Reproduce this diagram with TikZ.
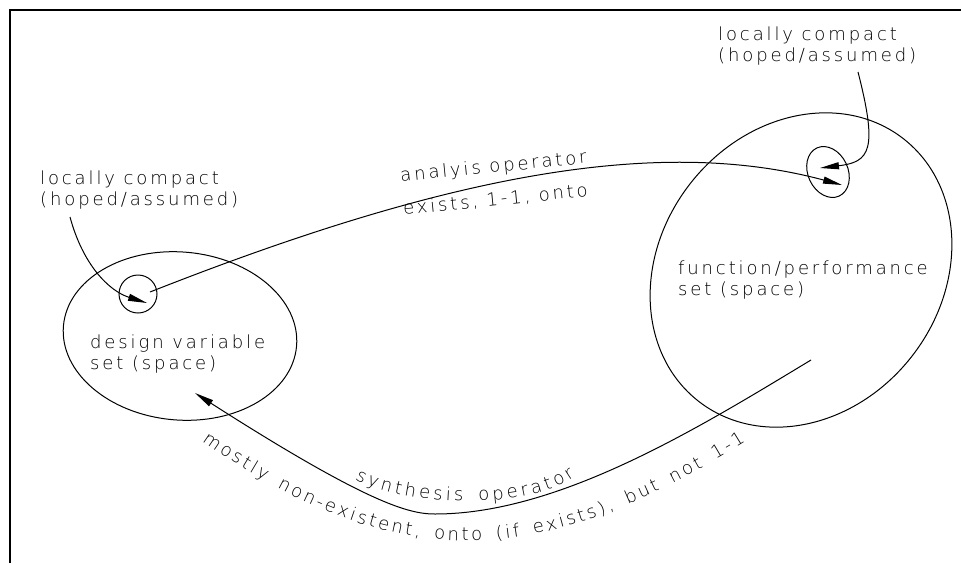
\documentclass[tikz,border=0pt]{standalone}
\usepackage{fontspec}
\setmainfont{DejaVu Sans ExtraLight}[LetterSpace=16]
\usetikzlibrary{arrows.meta,shapes.geometric,decorations.text}
\begin{document}
\begin{tikzpicture}[x=1pt,y=-1pt,
  lbl/.style={font=\fontsize{18}{20.5}\selectfont, inner sep=0pt, align=left},
  conn/.style={line width=1pt, -{Triangle[length=19pt,width=7pt]}},
  outline/.style={draw, line width=1pt, inner sep=0pt},
  curvetext/.style={decorate, decoration={text along path, text align={fit to path}, text={#1}}},
]
\useasboundingbox (0,0) rectangle (961,563);

% sheet frame
\draw[line width=1.6pt] (10,563) -- (10,10) -- (961,10);

% the two sets and their small neighbourhoods
\node[outline, ellipse, minimum width=234pt, minimum height=168pt, rotate=-5] (setL) at (180,336) {};
\node[outline, ellipse, minimum width=281pt, minimum height=333pt, rotate=-38] (setR) at (801,270) {};
\node[outline, circle, minimum size=38pt] (sL) at (138,294) {};
\node[outline, ellipse, minimum width=40pt, minimum height=53pt, rotate=25] (sR) at (828,172) {};

% labels (base anchor sits on the last line)
\node[lbl, anchor=base west] (txtL) at (90,369) {design variable\\set (space)};
\node[lbl, anchor=base west] (txtR) at (678,295) {function/performance\\set (space)};
\node[lbl, anchor=base west] (lcL) at (40,205) {locally compact\\(hoped/assumed)};
\node[lbl, anchor=base west] (lcR) at (718,61) {locally compact\\(hoped/assumed)};
\node[lbl, anchor=base, rotate=5.7] (anaTop) at (494,172.5) {analyis operator};
\node[lbl, anchor=base, rotate=5.7] (anaBot) at (496,205.5) {exists, 1-1, onto};

% free ends of the pointers
\coordinate (pL) at (70,217);
\coordinate (pR) at (858,72);
\coordinate (synStart) at (811,360);

% pointers from the labels to the neighbourhoods
\draw[conn] (pL) .. controls (83,265) and (109,291) .. ([shift={(9,9)}]sL.center);
\draw[conn] (pR) .. controls (878,150) and (870,162) .. ([shift={(-8,-4)}]sR.center);

% analysis operator
\draw[conn] ([shift={(12,-2)}]sL.center) .. controls (429,182) and (649,133) .. ([shift={(14,13)}]sR.center);

% synthesis operator
\draw[conn] (synStart) .. controls (700,427) and (560,514) .. (435,514)
  .. controls (410,514) and (370,505) .. ([shift={(15,57)}]setL.center);

% texts along the synthesis curve
\path[curvetext={|\fontsize{18}{20}\selectfont|synthesis operator}]
  (355,479) .. controls (400,506) and (525,512) .. (575,476);
\path[curvetext={|\fontsize{18}{20}\selectfont|mostly non-existent, onto (if exists), but not 1-1}]
  (202,441) .. controls (399,578) and (541,569) .. (745,442);
\end{tikzpicture}
\end{document}
